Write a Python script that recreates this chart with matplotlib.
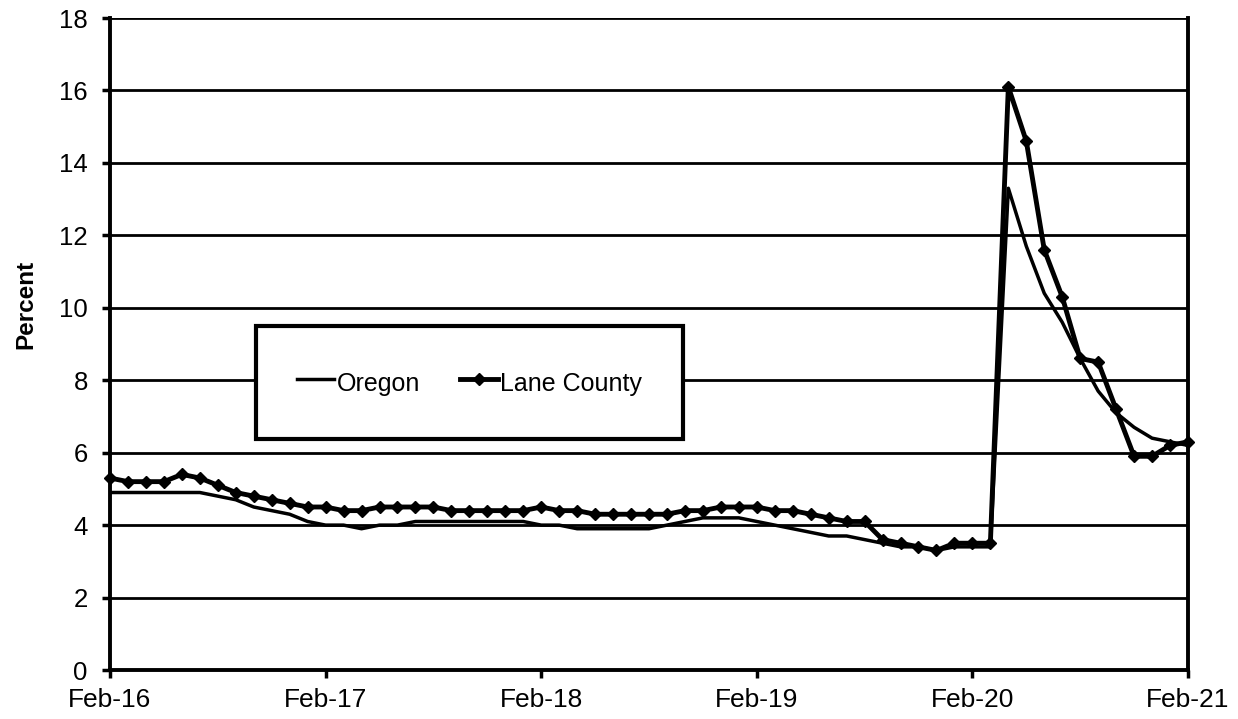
import matplotlib
matplotlib.use("Agg")
import matplotlib.pyplot as plt
import numpy as np

plt.rcParams['font.family'] = ['Liberation Sans', 'DejaVu Sans']

# monthly unemployment rate, Feb-16 .. Feb-21
lane = [5.3, 5.2, 5.2, 5.2, 5.4, 5.3, 5.1, 4.9, 4.8, 4.7, 4.6, 4.5,
        4.5, 4.4, 4.4, 4.5, 4.5, 4.5, 4.5, 4.4, 4.4, 4.4, 4.4, 4.4,
        4.5, 4.4, 4.4, 4.3, 4.3, 4.3, 4.3, 4.3, 4.4, 4.4, 4.5, 4.5,
        4.5, 4.4, 4.4, 4.3, 4.2, 4.1, 4.1, 3.6, 3.5, 3.4, 3.3, 3.5,
        3.5, 3.5, 16.1, 14.6, 11.6, 10.3, 8.6, 8.5, 7.2, 5.9, 5.9, 6.2,
        6.3]
oregon = [4.9, 4.9, 4.9, 4.9, 4.9, 4.9, 4.8, 4.7, 4.5, 4.4, 4.3, 4.1,
          4.0, 4.0, 3.9, 4.0, 4.0, 4.1, 4.1, 4.1, 4.1, 4.1, 4.1, 4.1,
          4.0, 4.0, 3.9, 3.9, 3.9, 3.9, 3.9, 4.0, 4.1, 4.2, 4.2, 4.2,
          4.1, 4.0, 3.9, 3.8, 3.7, 3.7, 3.6, 3.5, 3.4, 3.4, 3.3, 3.4,
          3.4, 3.4, 13.3, 11.7, 10.4, 9.6, 8.6, 7.7, 7.1, 6.7, 6.4, 6.3,
          6.2]
x_labels = ["Feb-16", "Feb-17", "Feb-18", "Feb-19", "Feb-20", "Feb-21"]
months = np.arange(len(lane))

fig = plt.figure(figsize=(12.38, 7.19), dpi=100)
ax = fig.add_axes([110 / 1238, 1 - 670 / 719, 1078 / 1238, 652 / 719])

ax.plot(months, oregon, color="black", lw=2.5, label="Oregon", zorder=3)
ax.plot(months, lane, color="black", lw=3.5, marker="D", markersize=6.5,
        label="Lane County", zorder=4, clip_on=False)

ax.set_xlim(0, 60)
ax.set_ylim(0, 18)
ax.set_xticks(np.arange(0, 61, 12))
ax.set_xticklabels(x_labels)
ax.set_yticks(np.arange(0, 19, 2))
ax.tick_params(axis="both", length=6, width=2.5, color="black",
               direction="out")
ax.tick_params(axis="x", labelsize=19, pad=7)
ax.tick_params(axis="y", labelsize=18.5, pad=10)
ax.grid(axis="y", color="black", lw=2.0)
ax.set_axisbelow(True)
for side in ["left", "bottom", "right"]:
    ax.spines[side].set_linewidth(2.8)
ax.spines["top"].set_visible(False)

ax.set_ylabel("Percent", fontsize=17.5, fontweight="bold")
ax.yaxis.set_label_coords(-0.067, 0.56)

leg = ax.legend(loc="center", bbox_to_anchor=(0.3335, 0.441), ncol=2,
                fontsize=18, frameon=True, fancybox=False, borderpad=1.65,
                handlelength=1.5, handleheight=1.5, handletextpad=0.1,
                columnspacing=1.6, borderaxespad=0)
leg.get_frame().set_edgecolor("black")
leg.get_frame().set_linewidth(3.0)
leg.get_frame().set_alpha(1)
leg.set_zorder(5)

fig.savefig("out.png", dpi=100)
